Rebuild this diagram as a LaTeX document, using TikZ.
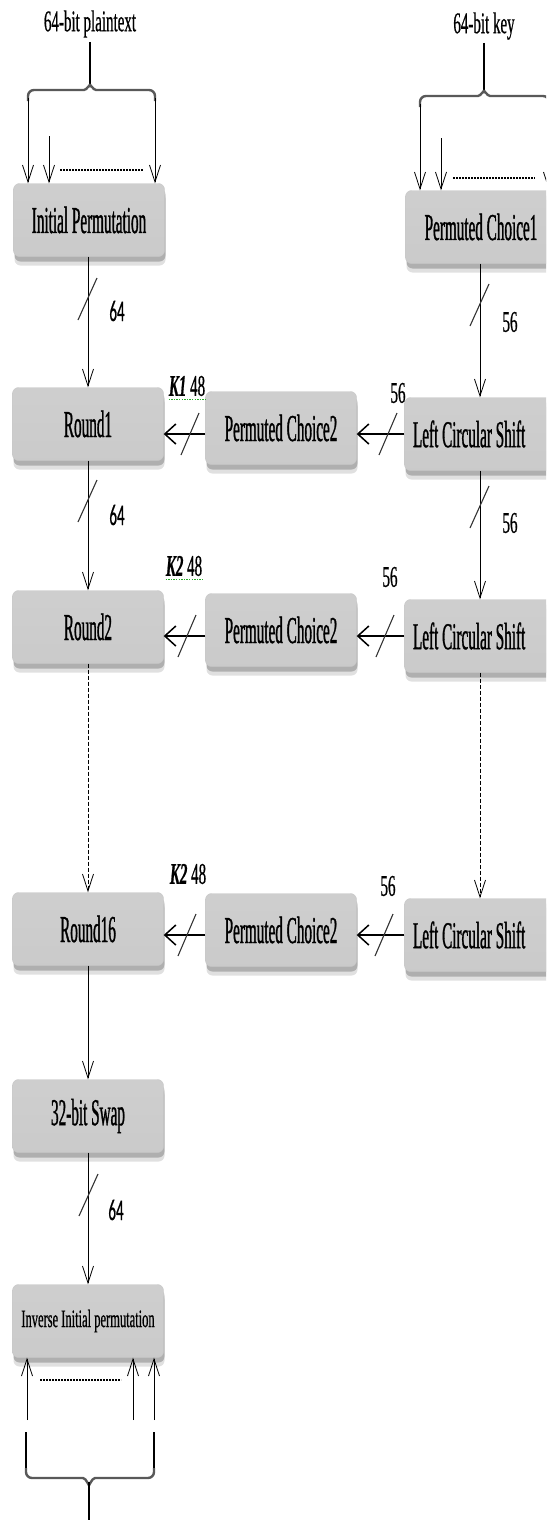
\documentclass[tikz,border=0pt]{standalone}
\usepackage{fontspec}
\setmainfont{Liberation Serif}
\newfontfamily\boxfont[FakeStretch=0.4, FakeBold=0.8]{Liberation Serif}
\newfontfamily\cond[FakeStretch=0.5, FakeBold=0.6]{Liberation Serif}
\newfontfamily\condsans[FakeStretch=0.5, FakeBold=0.6]{Carlito}
\usetikzlibrary{arrows.meta,shadows}
\pgfdeclareverticalshading{boxshade}{100bp}{color(0bp)=(black!32); color(6bp)=(black!28); color(14bp)=(black!21); color(76bp)=(black!19); color(90bp)=(black!8); color(100bp)=(white)}
\definecolor{kgreen}{RGB}{40,170,40}
\tikzset{
  box/.style={rounded corners=6pt, minimum width=151pt, minimum height=73pt, inner sep=0pt,
    shading=boxshade, draw=black!22, line width=0.4pt,
    drop shadow={shadow xshift=1pt, shadow yshift=-9pt, opacity=0.12, fill=black},
    drop shadow={shadow xshift=1pt, shadow yshift=-5pt, opacity=0.22, fill=black},
    font=\boxfont\fontsize{38}{40}\selectfont},
  lcs/.style={box, inner xsep=8.5pt},
  lbl/.style={font=\cond\fontsize{30}{32}\selectfont, inner sep=0pt},
  lblsans/.style={font=\condsans\fontsize{30}{32}\selectfont, inner sep=0pt},
  varrow/.style={line width=0.8pt, -{Straight Barb[length=17pt,width=11pt]}},
  harrow/.style={line width=1.5pt, -{Straight Barb[length=11pt,width=20pt]}},
  slash/.style={line width=1.1pt, black!80},
  dotline/.style={line width=1.6pt, dash pattern=on 2pt off 1pt},
  bracethick/.style={line width=2.4pt, black!65},
  bracethin/.style={line width=1.2pt},
  kline/.style={kgreen, line width=1.6pt, dash pattern=on 1.3pt off 1.3pt},
  vdash/.style={varrow, dash pattern=on 4pt off 2pt}
}
\begin{document}
\begin{tikzpicture}[x=1pt,y=-1pt]
\useasboundingbox (0,0) rectangle (546,1520);
\clip (0,0) rectangle (546,1520);

% boxes
\node[box] (IP) at (89,220) {Initial Permutation};
\node[box] (R1) at (88,424) {Round1};
\node[box] (R2) at (88,627) {Round2};
\node[box] (R16) at (88,929) {Round16};
\node[box] (SW) at (88,1116) {32-bit Swap};
\node[box, font=\cond\fontsize{25}{27}\selectfont] (IIP) at (88,1321) {Inverse Initial permutation};
\node[box] (PC2a) at (281,428) {Permuted Choice2};
\node[box] (PC2b) at (281,630) {Permuted Choice2};
\node[box] (PC2c) at (281,930) {Permuted Choice2};
\node[box] (PC1) at (481,227) {Permuted Choice1};
\node[lcs] (LCS1) at (480,434) {\makebox[134pt][l]{Left Circular Shift}};
\node[lcs] (LCS2) at (480,636) {\makebox[134pt][l]{Left Circular Shift}};
\node[lcs] (LCS3) at (480,935) {\makebox[134pt][l]{Left Circular Shift}};

% top-left brace
\node[lbl] (pt) at (90,24) {64-bit plaintext};
\coordinate (ptb) at (90,42);
\draw[bracethin] (ptb) -- (90,86);
\draw[bracethick] (28,101) -- (28,96) to[out=90,in=180] (34,90) -- (84,90) to[out=0,in=90] (90,86)
  to[out=90,in=180] (96,90) -- (149,90) to[out=0,in=90] (155,96) -- (155,101);
\coordinate (tl1) at (28,98);
\coordinate (tl2) at (49,136);
\coordinate (tl3) at (155,98);
\draw[varrow] (tl1) -- (tl1 |- IP.north);
\draw[varrow] (tl2) -- (tl2 |- IP.north);
\draw[varrow] (tl3) -- (tl3 |- IP.north);
\draw[dotline] (60,170) -- (143,170);

% top-right brace
\node[lbl] (key) at (484,26) {64-bit key};
\coordinate (keyb) at (484,43);
\draw[bracethin] (keyb) -- (484,92);
\draw[bracethick] (420,107) -- (420,102) to[out=90,in=180] (426,96) -- (478,96) to[out=0,in=90] (484,92)
  to[out=90,in=180] (490,96) -- (543,96) to[out=0,in=90] (549,102) -- (549,107);
\coordinate (tr1) at (420,104);
\coordinate (tr2) at (441,138);
\coordinate (tr3) at (549,104);
\draw[varrow] (tr1) -- (tr1 |- PC1.north);
\draw[varrow] (tr2) -- (tr2 |- PC1.north);
\draw[varrow] (tr3) -- (tr3 |- PC1.north);
\draw[dotline] (453,178) -- (535,178);

% left column vertical connectors
\draw[varrow] (IP.south -| R1.north) -- (R1.north);
\draw[slash] (78,320) -- (97,278);
\node[lblsans] (l64a) at (117,311) {64};
\draw[varrow] (R1.south) -- (R2.north);
\draw[slash] (78,522) -- (97,480);
\node[lblsans] (l64b) at (117,515) {64};
\draw[vdash] (R2.south) -- (R16.north);
\draw[varrow] (R16.south) -- (SW.north);
\draw[varrow] (SW.south) -- (IIP.north);
\draw[slash] (79,1216) -- (98,1174);
\node[lblsans] (l64c) at (116,1210) {64};

% right column vertical connectors
\draw[varrow] (PC1.south -| LCS1.north) -- (LCS1.north);
\draw[slash] (470,326) -- (489,284);
\node[lbl] (l56a) at (510,322) {56};
\draw[varrow] (LCS1.south) -- (LCS2.north);
\draw[slash] (470,528) -- (489,486);
\node[lbl] (l56b) at (510,523) {56};
\draw[vdash] (LCS2.south) -- (LCS3.north);

% row 1
\draw[harrow] (LCS1.west) -- (LCS1.west -| PC2a.east);
\draw[harrow] (PC2a.west |- LCS1.west) -- (R1.east |- LCS1.west);
\draw[slash] (379,455) -- (397,413);
\draw[slash] (181,455) -- (199,413);
\node[lbl] (l56c) at (398,393) {56};
\node[lbl] (k1) at (187,386) {{\bfseries\itshape K1} 48};
\draw[kline] ([yshift=-3pt]k1.south west) -- ([yshift=-3pt]k1.south east);

% row 2
\draw[harrow] (LCS2.west) -- (LCS2.west -| PC2b.east);
\draw[harrow] (PC2b.west |- LCS2.west) -- (R2.east |- LCS2.west);
\draw[slash] (376,657) -- (394,615);
\draw[slash] (178,657) -- (196,615);
\node[lbl] (l56d) at (390,577) {56};
\node[lbl] (k2) at (184,566) {{\bfseries\itshape K2} 48};
\draw[kline] ([yshift=-3pt]k2.south west) -- ([yshift=-3pt]k2.south east);

% row 16
\draw[harrow] (LCS3.west) -- (LCS3.west -| PC2c.east);
\draw[harrow] (PC2c.west |- LCS3.west) -- (R16.east |- LCS3.west);
\draw[slash] (375,956) -- (393,914);
\draw[slash] (178,956) -- (196,914);
\node[lbl] (l56e) at (388,886) {56};
\node[lbl] (k3) at (188,874) {{\bfseries\itshape K2} 48};

% bottom brace
\coordinate (bb1) at (27,1420);
\coordinate (bb2) at (133,1420);
\coordinate (bb3) at (154,1420);
\draw[varrow] (bb1) -- (bb1 |- IIP.south);
\draw[varrow] (bb2) -- (bb2 |- IIP.south);
\draw[varrow] (bb3) -- (bb3 |- IIP.south);
\draw[dotline] (40,1380) -- (121,1380);
\draw[bracethin] (26,1432) -- (26,1470);
\draw[bracethin] (154,1432) -- (154,1470);
\draw[bracethick] (26,1468) -- (26,1472) to[out=-90,in=180] (32,1478) -- (83,1478) to[out=0,in=-90] (89,1484)
  to[out=-90,in=180] (95,1478) -- (148,1478) to[out=0,in=-90] (154,1472) -- (154,1468);
\coordinate (bstem) at (89,1520);
\draw[bracethin] (89,1482) -- (bstem);
\end{tikzpicture}
\end{document}
